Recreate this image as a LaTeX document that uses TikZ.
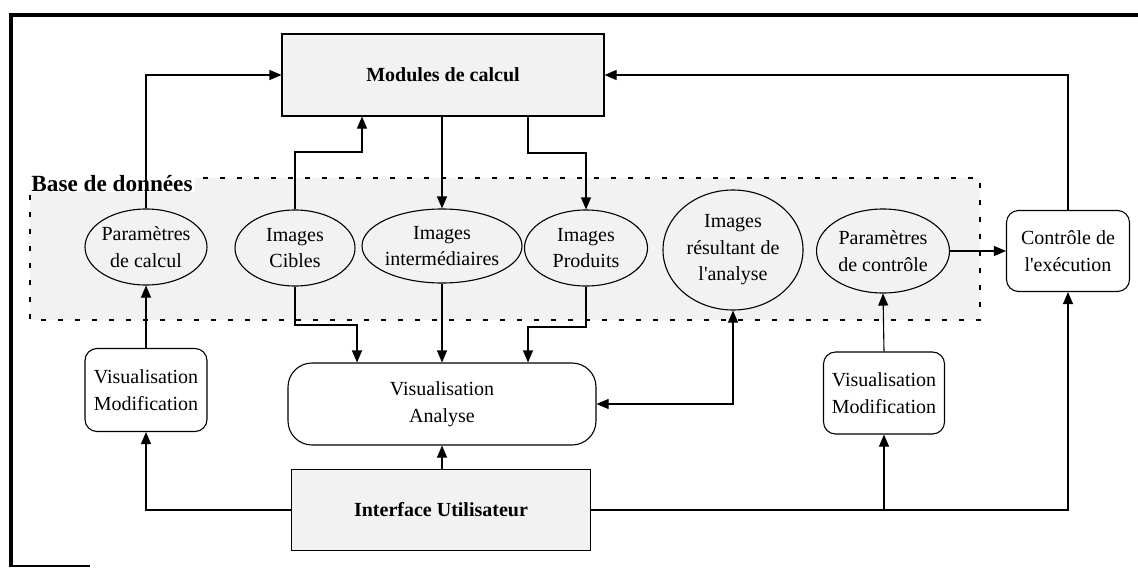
\documentclass[tikz,border=0pt]{standalone}
\usepackage{fontspec}
\setmainfont{Liberation Serif}
\usetikzlibrary{arrows.meta,shapes.geometric,calc}
\definecolor{stip}{gray}{0.95}
\begin{document}
\begin{tikzpicture}[x=0.5pt,y=-0.5pt,
  every node/.style={font=\fontsize{10}{13.3}\selectfont},
  ln/.style={line width=0.55pt},
  arr/.style={ln,-{Triangle[length=6pt,width=5pt]}},
  arrb/.style={ln,{Triangle[length=6pt,width=5pt]}-{Triangle[length=6pt,width=5pt]}},
  sqbox/.style={draw,ln,fill=stip,inner sep=0pt,align=center,font=\fontsize{10}{13.3}\selectfont\bfseries},
  rbox/.style={draw,ln,fill=white,rounded corners=6pt,inner sep=0pt,align=center},
  ell/.style={draw,ln,ellipse,inner sep=0pt},
  etext/.style={align=center,inner sep=0pt}
]
\useasboundingbox (0,0) rectangle (1138,567);
\fill[white] (0,0) rectangle (1138,567);
% outer frame
\draw[line width=2.2pt] (1138,15) -- (11,15) -- (11,567);
\draw[line width=1pt] (11,566) -- (90,566);

% database region
\draw[ln,fill=stip,dash pattern=on 2.5pt off 6pt] (30,178) rectangle (980,320);
\node[font=\fontsize{11.6}{13}\selectfont\bfseries,inner xsep=1pt,inner ysep=0pt,fill=white] (bdd) at (112,184) {Base de données};

% boxes
\node[sqbox,minimum width=161pt,minimum height=41pt] (mod) at (443,75) {Modules de calcul};
\node[sqbox,minimum width=149.5pt,minimum height=40.5pt] (iface) at (441,510) {Interface Utilisateur};
\node[rbox,minimum width=61.5pt,minimum height=40.5pt] (ctl) at (1068,251) {Contrôle de\\l\textquotesingle exécution};
\node[rbox,minimum width=61pt,minimum height=41.5pt] (vml) at (146,390) {Visualisation\\Modification};
\node[rbox,minimum width=60.5pt,minimum height=41pt] (vmr) at (884,393) {Visualisation\\Modification};
\node[rbox,rounded corners=12pt,minimum width=154pt,minimum height=41pt] (va) at (442,404) {Visualisation\\Analyse};

% ellipses
\node[ell,minimum width=61pt,minimum height=38pt] (pc) at (146,247) {};
\node[etext] (pct) at (pc) {Paramètres\\de calcul};
\node[ell,minimum width=60pt,minimum height=38pt] (ic) at (295,248) {};
\node[etext] (ict) at (ic) {Images\\Cibles};
\node[ell,minimum width=80pt,minimum height=37pt] (ii) at (442,246) {};
\node[etext] (iit) at (ii) {Images\\intermédiaires};
\node[ell,minimum width=61.5pt,minimum height=38pt] (ip) at (586,248) {};
\node[etext] (ipt) at (ip) {Images\\Produits};
\node[ell,minimum width=70pt,minimum height=60pt] (ir) at (733,250) {};
\node[etext] (irt) at (ir) {Images\\résultant de\\l\textquotesingle analyse};
\node[ell,minimum width=66.5pt,minimum height=42pt] (pco) at (883,251) {};
\node[etext] (pcot) at (pco) {Paramètres\\de contrôle};

% connectors
\draw[arr] (pc.north) |- (mod.west);
\draw[arr] (ic.north) |- (362,152) -- (mod.south -| 362,0);
\draw[arr] (mod.south -| ii.north) -- (ii.north);
\draw[arr] (mod.south -| 528,0) |- (586,153) -- (ip.north);
\draw[arr] (pco.east) -- (pco.east -| ctl.west);
\draw[arr] (ctl.north) |- (mod.east);
\draw[arr] (vml.north) -- (pc.south);
\draw[arr] (vmr.north) -- (pco.south);
\draw[arr] (ic.south) |- (357,325) -- (va.north -| 357,0);
\draw[arr] (ii.south) -- (ii.south |- va.north);
\draw[arr] (ip.south) |- (528,327) -- (va.north -| 528,0);
\draw[arrb] (va.east) -| (ir.south);
\draw[arr] (iface.north -| va.south) -- (va.south);
\draw[arr] (iface.west) -| (vml.south);
\draw[arr] (iface.east) -| (ctl.south);
\draw[arr] (iface.east -| vmr.south) -- (vmr.south);
\end{tikzpicture}
\end{document}
